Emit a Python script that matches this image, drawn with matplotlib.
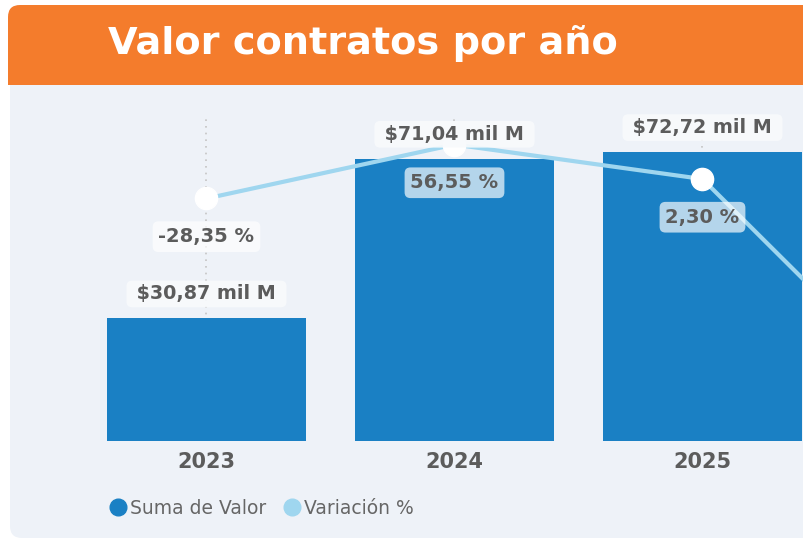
import matplotlib.pyplot as plt
from matplotlib.patches import FancyBboxPatch, Rectangle
from matplotlib.lines import Line2D

# datos
anios = ['2023', '2024', '2025', '2026']
valor = [30.87, 71.04, 72.72]             # mil M
variacion = [-28.35, 56.55, 2.30, -386.0]  # % (el ultimo queda fuera del recorte)
etq_valor = ['$30,87 mil M', '$71,04 mil M', '$72,72 mil M']
etq_var = ['-28,35 %', '56,55 %', '2,30 %']

c_barra = '#1a80c4'
c_linea = '#9fd6ef'
c_texto = '#5c5c5c'
c_fondo = '#eef2f8'
c_naranja = '#f47c2c'

fig = plt.figure(figsize=(8.04, 5.40), dpi=100)
fig.patch.set_facecolor('white')

# fondo con el panel y la cabecera naranja (en pixeles)
bg = fig.add_axes([0, 0, 1, 1], zorder=-1)
bg.set_xlim(0, 804)
bg.set_ylim(540, 0)
bg.axis('off')
bg.add_patch(FancyBboxPatch((10, 60), 810, 478, boxstyle='round,pad=0,rounding_size=12',
                            fc=c_fondo, ec='none'))
bg.add_patch(FancyBboxPatch((8, 5), 810, 80, boxstyle='round,pad=0,rounding_size=12',
                            fc=c_naranja, ec='none'))
bg.add_patch(Rectangle((8, 40), 810, 45, fc=c_naranja, ec='none'))
bg.text(108, 43, 'Valor contratos por año', color='white', fontsize=27.5,
        fontweight='bold', ha='left', va='center')

ax = fig.add_axes([10 / 804, 99 / 540, 794 / 804, 326 / 540])
ax.set_facecolor('none')
ax.set_xlim(-0.7923, 2.4093)
ax.set_ylim(0, 82.0)

x_bar = list(range(len(valor)))
x_lin = list(range(len(variacion)))

ax.vlines(x_bar, 0, 82, colors='#c4c4c4', linestyles=(0, (1, 3)), lw=1.2, zorder=0)
ax.bar(x_bar, valor, width=0.8, color=c_barra, zorder=2)

for s in ax.spines.values():
    s.set_visible(False)
ax.set_yticks([])
ax.set_xticks(x_bar)
ax.set_xticklabels(anios[:3], fontsize=15, fontweight='bold', color=c_texto)
ax.tick_params(axis='x', length=0, pad=8)

ax2 = ax.twinx()
ax2.set_ylim(-410.2, 103.1)
ax2.set_yticks([])
for s in ax2.spines.values():
    s.set_visible(False)
ax2.plot(x_lin, variacion, color=c_linea, lw=3, zorder=3, clip_on=False)
ax2.plot(x_lin, variacion, 'o', color='white', ms=16, zorder=4, clip_on=False)

for i, t in enumerate(etq_var):
    ax2.annotate(t, xy=(i, variacion[i]), xytext=(0, -27.5), textcoords='offset points',
                 ha='center', va='center', fontsize=14, fontweight='bold', color=c_texto,
                 bbox=dict(boxstyle='round,pad=0.3,rounding_size=0.3', fc='white',
                           ec='none', alpha=0.68), zorder=5, annotation_clip=False)

for i, t in enumerate(etq_valor):
    ax2.annotate(' ' + t + ' ', xy=(i, valor[i]), xycoords=ax.transData,
                 xytext=(0, 17.5), textcoords='offset points',
                 ha='center', va='center', fontsize=13.8, fontweight='bold', color=c_texto,
                 bbox=dict(boxstyle='round,pad=0.2,rounding_size=0.3', fc='#f8fafc',
                           ec='none', alpha=0.92), zorder=6, annotation_clip=False)

handles = [Line2D([], [], marker='o', ls='none', ms=12, color=c_barra, label='Suma de Valor'),
           Line2D([], [], marker='o', ls='none', ms=12, color=c_linea, label='Variación %')]
leg = fig.legend(handles=handles, loc='center left', bbox_to_anchor=(87 / 804, 1 - 508 / 540),
                 ncol=2, frameon=False, fontsize=13.5, handletextpad=-0.1,
                 columnspacing=0.6, handlelength=1.5)
for t in leg.get_texts():
    t.set_color('#666666')

fig.savefig('out.png', dpi=100)
